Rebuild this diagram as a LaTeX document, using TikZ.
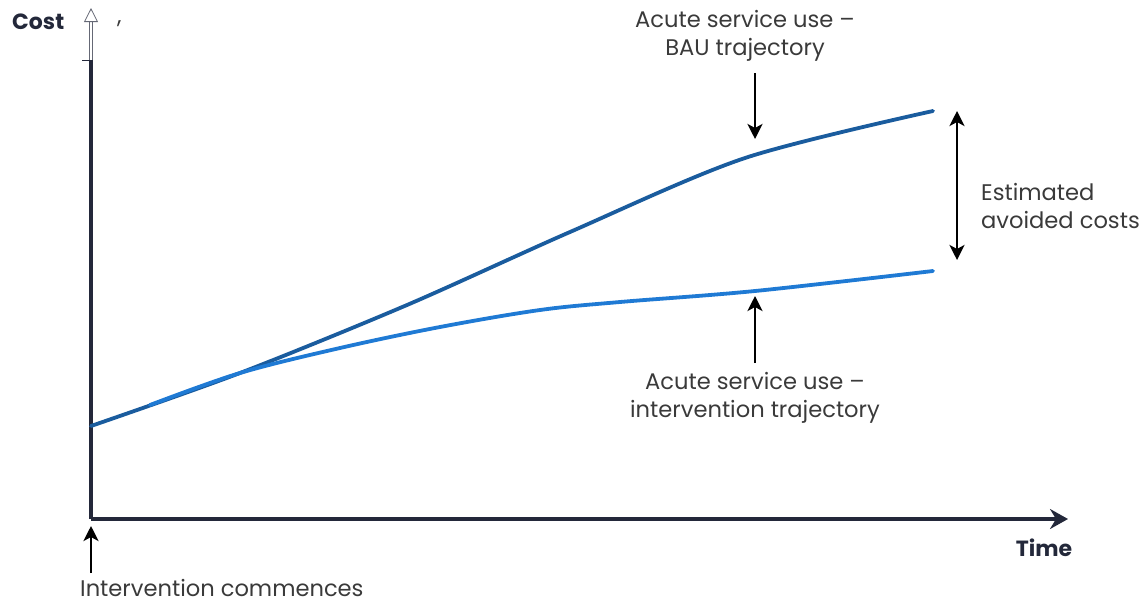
\documentclass[tikz,border=0pt]{standalone}
\usepackage{fontspec}
\setmainfont{Poppins}
\usetikzlibrary{arrows.meta}
\definecolor{axiscol}{HTML}{23283A}
\definecolor{bau}{HTML}{1A5C9E}
\definecolor{intv}{HTML}{1F7AD4}
\definecolor{txt}{HTML}{3A3A3A}
\tikzset{
  lbl/.style={font=\fontsize{22.6}{28}\selectfont, text=txt, inner sep=0pt, align=center},
  bold/.style={font=\fontsize{22}{26}\selectfont\bfseries, text=axiscol, inner sep=0pt},
  axis/.style={line width=3.5pt, draw=axiscol},
  pointer/.style={line width=2.8pt, draw=black, -{Stealth[length=15pt,width=15pt,inset=4pt]}},
  curve/.style={line width=3.8pt, line cap=round}
}
\begin{document}
\begin{tikzpicture}[x=1pt,y=-1pt]
\useasboundingbox (0,0) rectangle (1147,605);
% axes
\coordinate (O) at (91,519);
\coordinate (ytop) at (91,60);
\coordinate (yarrow) at (91,8);
\coordinate (xend) at (1068,519);
\draw[axis] (O) -- (ytop);
\draw[line width=0.8pt, draw=axiscol!70, double=white, double distance=2.5pt, -{Triangle[open,length=14pt,width=14pt,line width=0.8pt]}] (ytop) -- (yarrow);
\draw[line width=1pt, draw=axiscol] (82,60) -- (ytop);
\draw[axis, -{Stealth[length=18pt,width=20pt,inset=6pt]}] (O) -- (xend);
\node[bold, anchor=west] (cost) at (12,22) {Cost};
\node[lbl, anchor=west] (comma) at (117,24) {,};
\node[bold] (time) at (1044,548) {Time};
% curves
\coordinate (start) at (91,426);
\draw[curve, draw=bau] plot[smooth, tension=0.5] coordinates {(91,426) (240,373) (407,305) (570,232) (745,158) (933,111)};
\draw[curve, draw=intv] plot[smooth, tension=0.55] coordinates {(150,405) (240,373) (340,348) (440,327) (540,310) (620,302) (755,291) (933,271)};
% labels and pointers
\node[lbl] (baulbl) at (745,36) {Acute service use –\\BAU trajectory};
\coordinate (bautip) at (755,139);
\draw[pointer] (755,73) -- (bautip);
\node[lbl] (intlbl) at (755,398) {Acute service use –\\intervention trajectory};
\coordinate (inttip) at (755,296);
\draw[pointer] (755,363) -- (inttip);
\coordinate (gaptop) at (957,111);
\coordinate (gapbot) at (957,260);
\draw[pointer, {Stealth[length=15pt,width=15pt,inset=4pt]}-{Stealth[length=15pt,width=15pt,inset=4pt]}] (gaptop) -- (gapbot);
\node[lbl, anchor=west, align=left] (avoid) at (981,206) {Estimated\\avoided costs};
\coordinate (commtip) at (91,526);
\draw[pointer] (91,573) -- (commtip);
\node[lbl, anchor=west] (comm) at (80,588) {Intervention commences};
\end{tikzpicture}
\end{document}
